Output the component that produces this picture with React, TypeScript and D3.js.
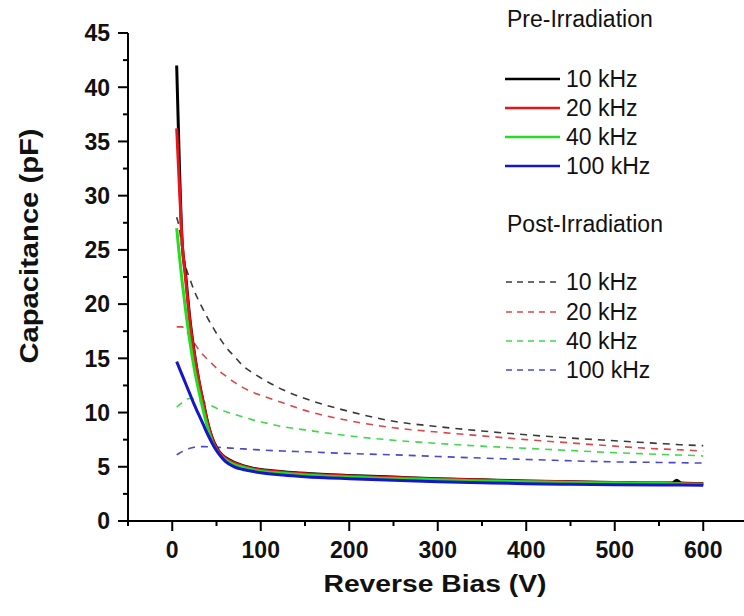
import React from "react";
import * as d3 from "d3";

// Bias voltages (V)
const voltages = [5, 8, 11, 15, 20, 25, 30, 35, 40, 45, 50, 55, 60, 70, 80, 90, 100, 125, 150, 200, 250, 300, 350, 400, 450, 500, 550, 565, 570, 575, 600];

// Pre-irradiation capacitance (pF)
const pre10k = [42, 33, 26, 22.8, 18.6, 15.5, 13, 11, 9.1, 7.7, 6.8, 6.2, 5.85, 5.4, 5.1, 4.9, 4.75, 4.55, 4.4, 4.2, 4.05, 3.9, 3.8, 3.7, 3.62, 3.56, 3.5, 3.5, 3.75, 3.5, 3.45];
const pre20k = [36.2, 31, 25.9, 22.4, 18.3, 15.3, 12.9, 10.9, 9.0, 7.6, 6.7, 6.15, 5.8, 5.35, 5.05, 4.85, 4.7, 4.5, 4.35, 4.15, 4.0, 3.87, 3.77, 3.67, 3.6, 3.54, 3.48, 3.47, 3.46, 3.45, 3.42];
const pre40k = [27, 24.5, 22.2, 19.5, 16.5, 14, 12, 10.2, 8.6, 7.3, 6.5, 6.0, 5.65, 5.2, 4.95, 4.75, 4.6, 4.4, 4.25, 4.05, 3.92, 3.8, 3.7, 3.62, 3.55, 3.5, 3.45, 3.44, 3.43, 3.42, 3.4];
const pre100k = [14.7, 14.1, 13.5, 12.7, 11.7, 10.7, 9.8, 8.9, 8.0, 7.2, 6.5, 5.95, 5.5, 5.0, 4.75, 4.58, 4.45, 4.24, 4.09, 3.9, 3.75, 3.63, 3.53, 3.44, 3.39, 3.35, 3.33, 3.33, 3.32, 3.32, 3.3];

// Post-irradiation capacitance (pF)
const post10k = [28, 27, 25.2, 23.5, 22.3, 21.2, 20.3, 19.5, 18.7, 18.0, 17.3, 16.7, 16.1, 15.2, 14.3, 13.7, 13.2, 12.1, 11.3, 10.1, 9.2, 8.7, 8.3, 7.95, 7.65, 7.4, 7.15, 7.08, 7.05, 7.03, 6.95];
const post20k = [17.9, 17.9, 17.9, 17.6, 17.0, 16.4, 15.8, 15.3, 14.9, 14.5, 14.1, 13.7, 13.4, 12.8, 12.3, 11.9, 11.6, 10.9, 10.2, 9.25, 8.6, 8.2, 7.85, 7.5, 7.2, 6.9, 6.65, 6.6, 6.58, 6.56, 6.45];
const post40k = [10.5, 10.7, 10.9, 11.2, 11.3, 11.25, 11.1, 10.95, 10.8, 10.6, 10.4, 10.25, 10.1, 9.85, 9.6, 9.35, 9.15, 8.7, 8.4, 7.85, 7.45, 7.15, 6.9, 6.7, 6.5, 6.3, 6.15, 6.1, 6.09, 6.08, 6.0];
const post100k = [6.1, 6.25, 6.4, 6.55, 6.7, 6.8, 6.85, 6.86, 6.85, 6.83, 6.8, 6.78, 6.75, 6.7, 6.65, 6.6, 6.55, 6.45, 6.38, 6.22, 6.1, 5.95, 5.8, 5.68, 5.55, 5.45, 5.4, 5.38, 5.38, 5.37, 5.35];

const xTicks = [0, 100, 200, 300, 400, 500, 600];
const xMinorTicks = [-50, 50, 150, 250, 350, 450, 550];
const yTicks = [0, 5, 10, 15, 20, 25, 30, 35, 40, 45];
const yMinorTicks = [2.5, 7.5, 12.5, 17.5, 22.5, 27.5, 32.5, 37.5, 42.5];

const freqLabels = ["10 kHz", "20 kHz", "40 kHz", "100 kHz"];
const solidColors = ["#000000", "#e8141a", "#22dd22", "#1515cc"];
const dashColors = ["#3a3a3a", "#d84848", "#3fd84a", "#4a4ac8"];
const preSeries = [pre10k, pre20k, pre40k, pre100k];
const postSeries = [post10k, post20k, post40k, post100k];

const FONT = "'Liberation Sans', Arial, Helvetica, sans-serif";

export default function App() {
  const x = d3.scaleLinear().domain([-50, 650]).range([128, 747.5]);
  const y = d3.scaleLinear().domain([0, 45]).range([521, 33]);
  const line = (vals: number[]) =>
    d3
      .line<number>()
      .x((_, i) => x(voltages[i]))
      .y((d) => y(d))
      .curve(d3.curveMonotoneX)(vals) || "";

  const preLegendY = [79, 108, 137, 166];
  const postLegendY = [282, 312, 341, 370];

  return (
    <svg
      width={744}
      height={616}
      style={{ position: "absolute", left: 0, top: 0, background: "#fff" }}
      fontFamily={FONT}
    >
      <rect x={0} y={0} width={744} height={616} fill="#fff" />

      {/* dashed post-irradiation curves */}
      {postSeries.map((s, i) => (
        <path
          key={"post" + i}
          d={line(s)}
          fill="none"
          stroke={dashColors[i]}
          strokeWidth={1.6}
          strokeDasharray="7,6"
        />
      ))}

      {/* solid pre-irradiation curves */}
      {preSeries.map((s, i) => (
        <path
          key={"pre" + i}
          d={line(s)}
          fill="none"
          stroke={solidColors[i]}
          strokeWidth={3}
          strokeLinejoin="round"
        />
      ))}

      {/* axes */}
      <line x1={x(-50)} x2={x(-50)} y1={y(0)} y2={y(45)} stroke="#000" strokeWidth={2} />
      <line x1={x(-50) - 1} x2={747} y1={y(0)} y2={y(0)} stroke="#000" strokeWidth={2} />

      {yTicks.map((t) => (
        <g key={"yt" + t}>
          <line x1={x(-50)} x2={x(-50) - 10} y1={y(t)} y2={y(t)} stroke="#000" strokeWidth={2} />
          <text
            x={110}
            y={y(t)}
            dy="0.36em"
            textAnchor="end"
            fontSize={23}
            fontWeight="bold"
            fill="#111"
          >
            {t}
          </text>
        </g>
      ))}
      {yMinorTicks.map((t) => (
        <line key={"ym" + t} x1={x(-50)} x2={x(-50) - 5} y1={y(t)} y2={y(t)} stroke="#000" strokeWidth={2} />
      ))}

      {xTicks.map((t) => (
        <g key={"xt" + t}>
          <line x1={x(t)} x2={x(t)} y1={y(0)} y2={y(0) + 10} stroke="#000" strokeWidth={2} />
          <text
            x={x(t)}
            y={558}
            textAnchor="middle"
            fontSize={23}
            fontWeight="bold"
            fill="#111"
          >
            {t}
          </text>
        </g>
      ))}
      {xMinorTicks.map((t) => (
        <line key={"xm" + t} x1={x(t)} x2={x(t)} y1={y(0)} y2={y(0) + 5} stroke="#000" strokeWidth={2} />
      ))}

      {/* axis titles */}
      <text
        x={435}
        y={592}
        textAnchor="middle"
        fontSize={23}
        fontWeight="bold"
        fill="#111"
        textLength={223}
        lengthAdjust="spacingAndGlyphs"
      >
        Reverse Bias (V)
      </text>
      <text
        transform="translate(38,246) rotate(-90)"
        textAnchor="middle"
        fontSize={25}
        fontWeight="bold"
        fill="#111"
        textLength={235}
        lengthAdjust="spacingAndGlyphs"
      >
        Capacitance (pF)
      </text>

      {/* legend */}
      <text x={507} y={27} fontSize={23} fill="#111">
        Pre-Irradiation
      </text>
      {freqLabels.map((l, i) => (
        <g key={"lp" + i}>
          <line x1={505} x2={560} y1={preLegendY[i]} y2={preLegendY[i]} stroke={solidColors[i]} strokeWidth={2.5} />
          <text x={566} y={preLegendY[i] + 8} fontSize={23} fill="#111">
            {l}
          </text>
        </g>
      ))}
      <text x={507} y={232} fontSize={23} fill="#111">
        Post-Irradiation
      </text>
      {freqLabels.map((l, i) => (
        <g key={"lq" + i}>
          <line
            x1={506}
            x2={560}
            y1={postLegendY[i]}
            y2={postLegendY[i]}
            stroke={dashColors[i]}
            strokeWidth={1.5}
            strokeDasharray="6,5"
          />
          <text x={566} y={postLegendY[i] + 8} fontSize={23} fill="#111">
            {l}
          </text>
        </g>
      ))}
    </svg>
  );
}
